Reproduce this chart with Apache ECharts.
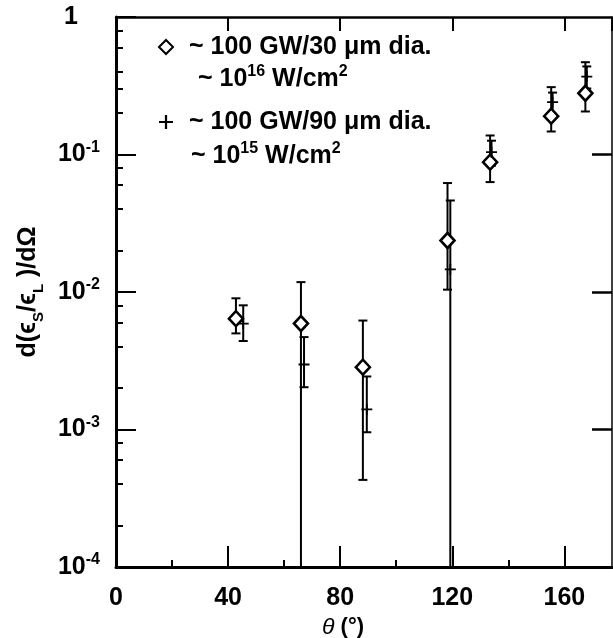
<!DOCTYPE html>
<html><head><meta charset="utf-8">
<script src="https://cdn.jsdelivr.net/npm/echarts@6/dist/echarts.min.js"></script>
<style>html,body{margin:0;padding:0;background:#fff}#c{width:613px;height:638px}</style>
</head><body><div id="c"></div>
<script>
// Series A: ~100 GW / 30 um dia (~1e16 W/cm2), diamonds
const thetaA = [42.8, 66.0, 88.1, 118.3, 133.5, 155.3, 167.5];
const valA   = [0.0064, 0.0059, 0.00284, 0.0237, 0.088, 0.19, 0.279];
const hiA    = [0.0090, 0.0118, 0.0062, 0.062, 0.1375, 0.309, 0.469];
const loA    = [0.0050, 0, 0.00043, 0.0104, 0.063, 0.147, 0.2055];   // 0 = bar runs off the bottom
// Series B: ~100 GW / 90 um dia (~1e15 W/cm2), plus signs
const thetaB = [45.4, 67.1, 89.5, 119.3, 134.0, 155.8, 168.0];
const valB   = [0.0059, 0.00297, 0.0014, 0.0146, 0.104, 0.24, 0.369];
const hiB    = [0.0080, 0.0047, 0.00243, 0.0463, 0.126, 0.282, 0.437];
const loB    = [0.0044, 0.00203, 0.000955, 0, 0.083, 0.192, 0.302];
// axes
const xMin = 0, xMax = 177, xInterval = 40;
const xMinorTicks = [20, 60, 100, 140];
const yMin = 1e-4, yMax = 1;
const yMinorTicks = [2e-4,4e-4,6e-4,8e-4, 2e-3,4e-3,6e-3,8e-3, 2e-2,4e-2,6e-2,8e-2, 0.2,0.3,0.4,0.6,0.8];
const yRightTicks = [1e-3, 1e-2, 1e-1];
const nameA = '~ 100 GW/30 μm dia.';
const nameB = '~ 100 GW/90 μm dia.';
const subA = ['~ 10', '16', ' W/cm', '2'];
const subB = ['~ 10', '15', ' W/cm', '2'];

const FONT = "'Liberation Sans', Arial, Helvetica, sans-serif";
const chart = echarts.init(document.getElementById('c'), null, {renderer: 'canvas'});

function errRender(params, api) {
  const x = api.value(0), lo = api.value(1), hi = api.value(2);
  const top = api.coord([x, hi]);
  const bot = api.coord([x, lo > 0 ? lo : yMin]);
  const hw = 4.5;
  const st = {stroke: '#000', lineWidth: 2};
  const ch = [
    {type: 'line', shape: {x1: top[0], y1: top[1], x2: bot[0], y2: bot[1]}, style: st},
    {type: 'line', shape: {x1: top[0]-hw, y1: top[1], x2: top[0]+hw, y2: top[1]}, style: st}
  ];
  if (lo > 0) ch.push({type: 'line', shape: {x1: bot[0]-hw, y1: bot[1], x2: bot[0]+hw, y2: bot[1]}, style: st});
  return {type: 'group', children: ch};
}

const plusPath = 'path://M0,4.2L10,4.2L10,5.8L0,5.8Z M4.2,0L5.8,0L5.8,10L4.2,10Z';
const labelRich = {
  b: {fontFamily: FONT, fontWeight: 'bold', fontSize: 25, lineHeight: 30, color: '#000'},
  s: {fontFamily: FONT, fontWeight: 'bold', fontSize: 16, lineHeight: 18, verticalAlign: 'top', color: '#000'},
  one: {fontFamily: FONT, fontWeight: 'bold', fontSize: 25, lineHeight: 30, color: '#000', padding: [0, 22, 0, 0]}
};
const supRich = {
  m: {fontFamily: FONT, fontWeight: 'bold', fontSize: 25, lineHeight: 30, color: '#000'},
  s: {fontFamily: FONT, fontWeight: 'bold', fontSize: 16, lineHeight: 18, verticalAlign: 'top', color: '#000'}
};

const option = {
  animation: false,
  backgroundColor: '#fff',
  grid: {left: 116, top: 17, width: 496, height: 550, containLabel: false, outerBoundsMode: 'none'},
  xAxis: [
    {type: 'value', position: 'bottom', min: xMin, max: xMax, interval: xInterval,
     axisLine: {show: true, lineStyle: {color: '#000', width: 3}},
     axisTick: {show: true, inside: true, length: 21, lineStyle: {color: '#000', width: 2}},
     splitLine: {show: false},
     axisLabel: {show: true, margin: 19, showMaxLabel: false, color: '#000', fontFamily: FONT, fontWeight: 'bold', fontSize: 25},
     name: '{th|θ}{m| (°)}', nameLocation: 'middle', nameGap: 48,
     nameTextStyle: {padding: [0, 42, 0, 0], rich: {
       th: {fontFamily: FONT, fontStyle: 'italic', fontSize: 23, color: '#000'},
       m: {fontFamily: FONT, fontWeight: 'bold', fontSize: 22, color: '#000'}}}},
    {type: 'value', position: 'top', min: xMin, max: xMax, interval: xInterval,
     axisLine: {show: true, lineStyle: {color: '#000', width: 2.5}},
     axisTick: {show: true, inside: true, length: 14, lineStyle: {color: '#000', width: 2}},
     splitLine: {show: false}, axisLabel: {show: false}},
    {type: 'value', position: 'bottom', min: xMin, max: xMax,
     axisLine: {show: false},
     axisTick: {show: true, inside: true, length: 7, customValues: xMinorTicks, lineStyle: {color: '#000', width: 2}},
     splitLine: {show: false}, axisLabel: {show: false}}
  ],
  yAxis: [
    {type: 'log', logBase: 10, position: 'left', min: yMin, max: yMax,
     axisLine: {show: true, lineStyle: {color: '#000', width: 3}},
     axisTick: {show: true, inside: true, length: 20, lineStyle: {color: '#000', width: 2}},
     splitLine: {show: false},
     axisLabel: {show: true, margin: 16, rich: labelRich,
       formatter: v => { const e = Math.round(Math.log10(v)); return e === 0 ? '{one|1}' : '{b|10}{s|' + e + '}'; }},
     name: '{m|d(ϵ}{sub|S}{m|/ϵ}{sub|L}{m| )/dΩ}', nameLocation: 'middle', nameRotate: 90, nameGap: 70,
     nameTextStyle: {rich: {
       m: {fontFamily: FONT, fontWeight: 'bold', fontSize: 25, lineHeight: 36, color: '#000'},
       sub: {fontFamily: FONT, fontWeight: 'bold', fontSize: 15, lineHeight: 17, verticalAlign: 'bottom', color: '#000'}}}},
    {type: 'log', logBase: 10, position: 'left', offset: -496, min: yMin, max: yMax,
     axisLine: {show: true, lineStyle: {color: '#000', width: 1.5}},
     axisTick: {show: true, inside: false, length: 20, customValues: yRightTicks, lineStyle: {color: '#000', width: 2.5}},
     splitLine: {show: false}, axisLabel: {show: false}},
    {type: 'log', logBase: 10, position: 'left', offset: 0, min: yMin, max: yMax,
     axisLine: {show: false},
     axisTick: {show: true, inside: true, length: 7, customValues: yMinorTicks, lineStyle: {color: '#000', width: 2}},
     splitLine: {show: false}, axisLabel: {show: false}}
  ],
  legend: {
    orient: 'vertical', left: 153, top: 29, itemWidth: 14, itemHeight: 14, itemGap: 49,
    data: [nameA, nameB],
    formatter: n => '{g|}' + n,
    textStyle: {fontFamily: FONT, fontWeight: 'bold', fontSize: 25, lineHeight: 26, color: '#000',
      rich: {g: {width: 11}}}
  },
  graphic: [
    {type: 'text', left: 198, top: 64, silent: true,
     style: {text: '{m|' + subA[0] + '}{s|' + subA[1] + '}{m|' + subA[2] + '}{s|' + subA[3] + '}', rich: supRich}},
    {type: 'text', left: 191, top: 141, silent: true,
     style: {text: '{m|' + subB[0] + '}{s|' + subB[1] + '}{m|' + subB[2] + '}{s|' + subB[3] + '}', rich: supRich}}
  ],
  series: [
    {type: 'custom', name: 'errA', renderItem: errRender, xAxisIndex: 0, yAxisIndex: 0, z: 2,
     encode: {x: 0, y: [1, 2]}, data: thetaA.map((t, i) => [t, loA[i], hiA[i]])},
    {type: 'custom', name: 'errB', renderItem: errRender, xAxisIndex: 0, yAxisIndex: 0, z: 2,
     encode: {x: 0, y: [1, 2]}, data: thetaB.map((t, i) => [t, loB[i], hiB[i]])},
    {type: 'scatter', name: nameA, xAxisIndex: 0, yAxisIndex: 0, z: 4,
     symbol: 'diamond', symbolSize: [14, 15],
     itemStyle: {color: '#fff', borderColor: '#000', borderWidth: 2.6, opacity: 1},
     data: thetaA.map((t, i) => [t, valA[i]])},
    {type: 'scatter', name: nameB, xAxisIndex: 0, yAxisIndex: 0, z: 5,
     symbol: plusPath, symbolSize: 11,
     itemStyle: {color: '#000', opacity: 1},
     data: thetaB.map((t, i) => [t, valB[i]])}
  ]
};
chart.setOption(option);
</script></body></html>
